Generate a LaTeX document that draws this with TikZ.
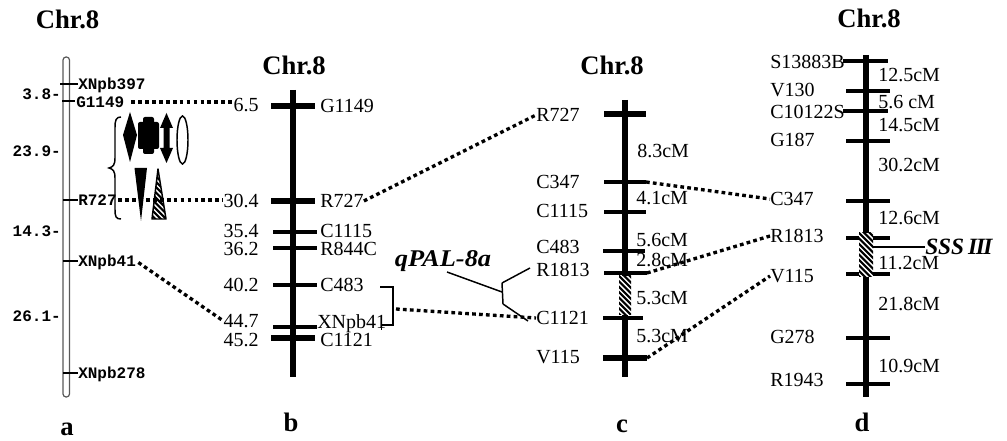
\documentclass[tikz,border=0pt]{standalone}
\usepackage{fontspec}
\setmainfont{Liberation Serif}
\newfontfamily\pixfont{Liberation Mono}
\begin{document}
\begin{tikzpicture}[x=0.75pt,y=-0.75pt,
  title/.style={font=\fontsize{20}{24}\selectfont\bfseries,inner sep=0,anchor=base},
  lab/.style={font=\fontsize{15}{18}\selectfont,inner sep=0,text height=9.9pt,text depth=0pt},
  alab/.style={font=\pixfont\fontsize{12}{14}\selectfont\bfseries,inner sep=0,text height=7.6pt,text depth=0pt},
  dotline/.style={line width=2.5pt,dash pattern=on 2.8pt off 2.4pt},
  thinbar/.style={line width=0.9pt},
  chrom/.style={line width=4.4pt},
  tickA/.style={line width=4.4pt},
  tickB/.style={line width=3.1pt},
  lead/.style={line width=1.1pt},
  hatchline/.style={line width=1.6pt}]
\useasboundingbox (0,0) rectangle (1007,441);

% ---------------- map a ----------------
\node[title] (ta) at (67.5,29) {Chr.8};
\draw[line width=0.9pt,draw=black!65,fill=white,rounded corners=2.3pt] (63,57) rectangle (69.5,397);
\draw[thinbar] (60,84) -- (78,84);
\draw[thinbar] (62,101) -- (75,101);
\draw[thinbar] (63,200) -- (78,200);
\draw[thinbar] (63,261) -- (78,261);
\draw[thinbar] (63,373) -- (78,373);
\node[alab,anchor=west] (aX397) at (78,84) {XNpb397};
\node[alab,anchor=west] (aG1149) at (76,102) {G1149};
\node[alab,anchor=west] (aR727) at (78,200) {R727};
\node[alab,anchor=west] (aX41) at (78,261) {XNpb41};
\node[alab,anchor=west] (aX278) at (78,373) {XNpb278};
\node[alab,anchor=east] (d1) at (61,94) {3.8-};
\node[alab,anchor=east] (d2) at (61,151) {23.9-};
\node[alab,anchor=east] (d3) at (61,231) {14.3-};
\node[alab,anchor=east] (d4) at (61,316) {26.1-};

% brace and trait symbols
\draw[line width=1.1pt] (121,117) .. controls (116,117) and (115,120) .. (115,128) -- (115,158)
  .. controls (115,165) and (113,167) .. (109,168) .. controls (113,169) and (115,171) .. (115,178)
  -- (115,209) .. controls (115,217) and (116,219) .. (121,219);
\fill (130,112) -- (137,135) -- (130,162) -- (123,135) -- cycle;
\fill[rounded corners=1.5pt] (138,122) rectangle (159,149);
\fill[rounded corners=1.5pt] (143,117) rectangle (154,154);
\fill (166.5,113) -- (173,128) -- (169.5,128) -- (169.5,148) -- (173,148) -- (166.5,163)
  -- (160,148) -- (163.5,148) -- (163.5,128) -- (160,128) -- cycle;
\draw[line width=1.1pt] (182.5,140) ellipse [x radius=5.5,y radius=24];
\fill (134.5,168) -- (147,168) -- (141,221) -- cycle;
\begin{scope}
  \clip (158,169) -- (166,219) -- (152,219) -- cycle;
  \foreach \k in {-3,...,12} \draw[hatchline] (150,{165+\k*5.4}) -- ++(20,20);
\end{scope}
\draw[line width=1.1pt,line join=round] (158,169) -- (166,219) -- (152,219) -- cycle;

% ---------------- map b ----------------
\node[title] (tb) at (294,75) {Chr.8};
\draw[chrom] (293,90) -- (293,377);
\draw[tickA] (271,106) -- (315,106);
\draw[tickA] (271,201) -- (315,201);
\draw[tickB] (273,232) -- (317,232);
\draw[tickB] (273,248) -- (317,248);
\draw[tickB] (273,285) -- (317,285);
\draw[tickB] (273,327) -- (317,327);
\draw[tickA] (271,338) -- (315,338);
\node[lab,anchor=east] (b65) at (259,105) {6.5};
\node[lab,anchor=east] (b304) at (259,201) {30.4};
\node[lab,anchor=east] (b354) at (259,231) {35.4};
\node[lab,anchor=east] (b362) at (259,249) {36.2};
\node[lab,anchor=east] (b402) at (259,285) {40.2};
\node[lab,anchor=east] (b447) at (259,321) {44.7};
\node[lab,anchor=east] (b452) at (259,340) {45.2};
\node[lab,anchor=west] (bG1149) at (320,106) {G1149};
\node[lab,anchor=west] (bR727) at (320,201) {R727};
\node[lab,anchor=west] (bC1115) at (320,231) {C1115};
\node[lab,anchor=west] (bR844C) at (320,249) {R844C};
\node[lab,anchor=west] (bC483) at (320,285) {C483};
\node[lab,anchor=west] (bX41) at (317,322) {XNpb41};
\node[lab,anchor=west] (bC1121) at (320,340) {C1121};
\draw[lead] (380,287) -- (393,287) -- (393,325) -- (382,325);
\draw[lead] (381.5,320) -- (381.5,330);
\coordinate (bbr) at (396,309);

% ---------------- map c ----------------
\node[title] (tc) at (612,75) {Chr.8};
\draw[line width=4pt] (625,100) -- (625,377);
\draw[tickA] (604,114) -- (646,114);
\draw[tickB] (604,182) -- (646,182);
\draw[tickB] (604,212) -- (646,212);
\draw[tickB] (603,251) -- (645,251);
\draw[tickB] (604,273) -- (647,273);
\draw[tickB] (603,318) -- (643,318);
\draw[line width=3.8pt] (603,358) -- (647,358);
\fill[white] (619,276) rectangle (631,315);
\begin{scope}
  \clip (619,276) rectangle (631,315);
  \foreach \k in {-4,...,9} \draw[hatchline] (617,{274+\k*5.4}) -- ++(16,16);
\end{scope}
\coordinate (cC347r) at (646,182);
\coordinate (cR1813r) at (647,273);
\coordinate (cV115r) at (647,358);
\node[lab,anchor=west] (cR727) at (536,115) {R727};
\node[lab,anchor=west] (cC347) at (536,182) {C347};
\node[lab,anchor=west] (cC1115) at (536,211) {C1115};
\node[lab,anchor=west] (cC483) at (536,247) {C483};
\node[lab,anchor=west] (cR1813) at (536,270) {R1813};
\node[lab,anchor=west] (cC1121) at (536,318) {C1121};
\node[lab,anchor=west] (cV115) at (536,357) {V115};
\node[lab,anchor=west] (c1) at (637,151) {8.3cM};
\node[lab,anchor=west] (c2) at (636,198) {4.1cM};
\node[lab,anchor=west] (c3) at (636,240) {5.6cM};
\node[lab,anchor=west] (c4) at (636,260) {2.8cM};
\node[lab,anchor=west] (c5) at (636,298) {5.3cM};
\node[lab,anchor=west] (c6) at (636,336) {5.3cM};

% QTL label with leader
\node[font=\fontsize{18}{20}\selectfont\bfseries\itshape,inner sep=0] (qpal) at (443,261) {\scalebox{1.1}[1]{qPAL-8a}};
\coordinate (qk) at (502,292);
\coordinate (qu) at (502,283);
\coordinate (ql) at (503,304);
\draw[lead] (447,272) -- (qk);
\draw[lead] (qu) -- (ql);
\draw[lead] (qu) -- (530,268);
\draw[lead] (ql) -- (528,321);

% ---------------- map d ----------------
\node[title] (td) at (869,28) {Chr.8};
\draw[line width=4.4pt] (866,55) -- (866,397);
\draw[tickB] (843,61) -- (888,61);
\draw[tickB] (846,91) -- (890,91);
\draw[tickB] (843,111) -- (888,111);
\draw[tickB] (846,141) -- (890,141);
\draw[tickB] (846,201) -- (890,201);
\draw[tickB] (846,238) -- (890,238);
\draw[tickB] (846,274) -- (890,274);
\draw[tickB] (846,338) -- (890,338);
\draw[tickB] (846,384) -- (890,384);
\fill[white] (859,233) rectangle (873,277);
\begin{scope}
  \clip (859,233) rectangle (873,277);
  \foreach \k in {-5,...,10} \draw[hatchline] (857,{231+\k*5.4}) -- ++(18,18);
\end{scope}
\node[lab,anchor=west] (dS) at (770,62) {S13883B};
\node[lab,anchor=west] (dV130) at (770,90) {V130};
\node[lab,anchor=west] (dC10122S) at (770,112) {C10122S};
\node[lab,anchor=west] (dG187) at (770,140) {G187};
\node[lab,anchor=west] (dC347) at (770,199) {C347};
\node[lab,anchor=west] (dR1813) at (770,236) {R1813};
\node[lab,anchor=west] (dV115) at (770,276) {V115};
\node[lab,anchor=west] (dG278) at (770,337) {G278};
\node[lab,anchor=west] (dR1943) at (770,380) {R1943};
\node[lab,anchor=west] (e1) at (878,75) {12.5cM};
\node[lab,anchor=west] (e2) at (878,102) {5.6 cM};
\node[lab,anchor=west] (e3) at (878,125) {14.5cM};
\node[lab,anchor=west] (e4) at (878,165) {30.2cM};
\node[lab,anchor=west] (e5) at (878,218) {12.6cM};
\node[lab,anchor=west] (e6) at (878,263) {11.2cM};
\node[lab,anchor=west] (e7) at (878,304) {21.8cM};
\node[lab,anchor=west] (e8) at (878,366) {10.9cM};
\node[font=\fontsize{17.5}{20}\selectfont\bfseries\itshape,inner sep=0,anchor=west] (sss) at (925,247) {SSS\,I\kern-0.06em I\kern-0.06em I};
\draw[line width=1.1pt] (873,247) -- (sss.west);

% ---------------- dotted connectors ----------------
\draw[dotline,shorten <=5pt] (aG1149.east) -- (aG1149.east -| b65.west);
\draw[dotline,shorten <=1pt] (aR727.east) -- (aR727.east -| b304.west);
\draw[dotline,shorten <=2pt] (aX41.east) -- (b447.west);
\draw[dotline] (bR727.east) -- (cR727.west);
\draw[dotline] (bbr) -- (cC1121.west);
\draw[dotline] (cC347r) -- (dC347.west);
\draw[dotline] (cR1813r) -- (dR1813.west);
\draw[dotline] (cV115r) -- (dV115.west);

% ---------------- panel letters ----------------
\node[title] (la) at (67,436) {a};
\node[title] (lb) at (291,432) {b};
\node[title] (lc) at (622,433) {c};
\node[title] (ld) at (862,432) {d};
\end{tikzpicture}
\end{document}
